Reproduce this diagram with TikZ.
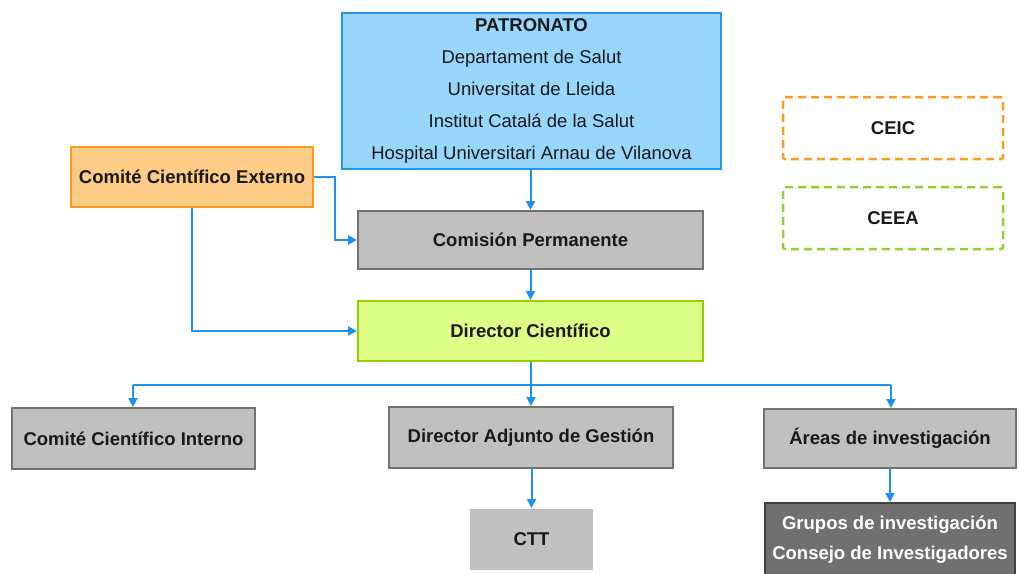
\documentclass[tikz,border=0pt]{standalone}
\usepackage{fontspec}
\setmainfont{Liberation Sans}
\usetikzlibrary{arrows.meta}
\definecolor{linkblue}{RGB}{30,144,240}
\definecolor{patfill}{RGB}{153,214,252}
\definecolor{patdraw}{RGB}{33,150,243}
\definecolor{extfill}{RGB}{255,204,136}
\definecolor{extdraw}{RGB}{255,153,34}
\definecolor{dirfill}{RGB}{221,255,136}
\definecolor{dirdraw}{RGB}{153,204,0}
\definecolor{boxgray}{RGB}{192,192,192}
\definecolor{graybord}{RGB}{112,116,110}
\definecolor{darkfill}{RGB}{112,112,112}
\definecolor{darkbord}{RGB}{64,64,64}
\definecolor{txt}{RGB}{25,25,25}
\definecolor{ceicdraw}{RGB}{255,153,34}
\definecolor{ceeadraw}{RGB}{153,204,51}
\begin{document}
\begin{tikzpicture}[x=1pt,y=-1pt,
  font=\fontsize{18.5}{30}\selectfont,
  box/.style={draw, line width=2pt, inner sep=0pt, align=center, text=txt,
    font=\fontsize{18.5}{30}\selectfont\bfseries},
  graybox/.style={box, fill=boxgray, draw=graybord},
  dashbox/.style={draw, line width=2.5pt, fill=white, dash pattern=on 8pt off 5pt,
    rounded corners=2pt, inner sep=0pt, text=txt, font=\fontsize{18.5}{30}\selectfont\bfseries,
    minimum width=220pt, minimum height=62pt},
  link/.style={draw=linkblue, line width=2pt, -{Triangle[length=9pt,width=9pt]}},
  plain/.style={draw=linkblue, line width=2pt}]
\useasboundingbox (0,0) rectangle (1019,573);
\fill[white] (0,0) rectangle (1019,573);

\node[box, fill=patfill, draw=patdraw, minimum width=379pt, minimum height=156pt,
  font=\fontsize{18.5}{32}\selectfont] (pat) at (531.5,91)
  {{\bfseries PATRONATO}\\Departament de Salut\\Universitat de Lleida\\Institut Catal\'a de la Salut\\Hospital Universitari Arnau de Vilanova};

\node[graybox, minimum width=345pt, minimum height=58pt] (com) at (530.5,240) {Comisión Permanente};
\node[box, fill=extfill, draw=extdraw, minimum width=242pt, minimum height=60pt] (ext) at (192,177) {Comité Científico Externo};
\node[box, fill=dirfill, draw=dirdraw, minimum width=345pt, minimum height=60pt] (dir) at (530.5,331) {Director Científico};
\node[graybox, minimum width=243pt, minimum height=61pt] (int) at (133.5,438.5) {Comité Científico Interno};
\node[graybox, minimum width=284pt, minimum height=61pt] (adj) at (531,437.5) {Director Adjunto de Gestión};
\node[graybox, minimum width=252pt, minimum height=59pt] (are) at (890,438.5) {Áreas de investigación};
\node[box, draw=none, fill=boxgray, minimum width=123pt, minimum height=61pt] (ctt) at (531.5,539.5) {CTT};
\node[box, fill=darkfill, draw=darkbord, minimum width=250pt, minimum height=90pt, anchor=north] (gru) at (890,502) {};
\node[align=center, text=white, font=\fontsize{18.5}{30}\selectfont\bfseries] (grutext) at (890,540)
  {Grupos de investigación\\Consejo de Investigadores};

\node[dashbox, draw=ceicdraw] (ceic) at (893,128) {CEIC};
\node[dashbox, draw=ceeadraw] (ceea) at (893,218) {CEEA};

\coordinate (e1) at (335,177);
\coordinate (bl) at (133,385);
\coordinate (brr) at (891,385);

\draw[link] (pat.south -| com.north) -- (com.north);
\draw[link] (com.south) -- (dir.north);
\draw[link] (ext.east) -- (e1) |- (com.west);
\draw[link] (ext.south) |- (dir.west);
\draw[link] (dir.south -| adj.north) -- (adj.north);
\draw[plain] (bl) -- (brr);
\draw[link] (bl) -- (bl |- int.north);
\draw[link] (brr) -- (brr |- are.north);
\draw[link] (adj.south -| ctt.north) -- (ctt.north);
\draw[link] (are.south -| gru.north) -- (gru.north);
\end{tikzpicture}
\end{document}
